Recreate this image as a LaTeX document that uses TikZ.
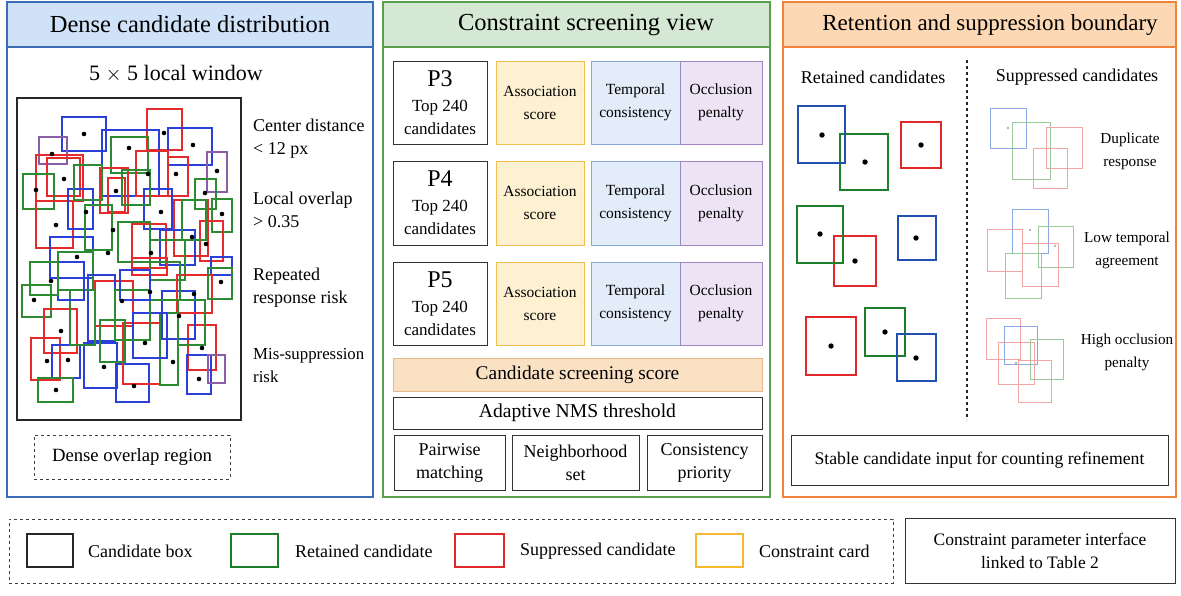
\documentclass[tikz,border=0pt]{standalone}
\usepackage{fontspec}
\setmainfont{Liberation Serif}

\definecolor{hdrblue}{HTML}{CFE2F7}
\definecolor{bdrblue}{HTML}{3B6DB6}
\definecolor{hdrgreen}{HTML}{D5E8D4}
\definecolor{bdrgreen}{HTML}{5A9E4E}
\definecolor{hdrorange}{HTML}{FDD8B4}
\definecolor{bdrorange}{HTML}{F0843A}
\definecolor{assocfill}{HTML}{FDF1D2}
\definecolor{assocdraw}{HTML}{F2C04E}
\definecolor{tempfill}{HTML}{E3ECF9}
\definecolor{tempdraw}{HTML}{8BA8DC}
\definecolor{occfill}{HTML}{ECE3F4}
\definecolor{occdraw}{HTML}{A087C2}
\definecolor{scorefill}{HTML}{FBE1C4}
\definecolor{scoredraw}{HTML}{E6B98C}
\definecolor{cr}{HTML}{E52B2B}
\definecolor{cb}{HTML}{2B3FD9}
\definecolor{cg}{HTML}{2E8B34}
\definecolor{cp}{HTML}{8B5DA8}
\definecolor{rb}{HTML}{2150B0}
\definecolor{rg}{HTML}{1E7F2A}
\definecolor{rr}{HTML}{E02828}
\definecolor{fb}{HTML}{8AA8E2}
\definecolor{fg}{HTML}{9CC89C}
\definecolor{fr}{HTML}{F2A5A5}
\definecolor{legyellow}{HTML}{F5B92E}

% box from corner (x1,y1) to (x2,y2): name, x1, y1, x2, y2, style, text
\newcommand{\mkbox}[7]{%
  \node[#6, minimum width={(#4-#2)*1pt}, minimum height={(#5-#3)*1pt}]
    (#1) at ({(#2+#4)/2},{(#3+#5)/2}) {#7};}

\begin{document}
\begin{tikzpicture}[x=1pt,y=-1pt,
  box/.style={draw, inner sep=0pt, outer sep=0pt, align=center},
  ftitle/.style={font=\fontsize{24.5}{28}\selectfont},
  fbody/.style={font=\fontsize{18}{23}\selectfont},
  fcard/.style={font=\fontsize{15.5}{23}\selectfont},
  fside/.style={font=\fontsize{15.2}{23}\selectfont},
  panelline/.style={line width=1.4pt},
  card/.style={box, fcard, line width=0.9pt},
  plain/.style={box, fbody, draw=black!80, line width=1pt},
  txt/.style={inner sep=0pt, align=center},
  scat/.style={line width=1.2pt},
  kept/.style={line width=1.5pt},
  keptthick/.style={line width=2.6pt},
  faded/.style={line width=0.8pt},
  legsq/.style={draw, line width=1.3pt, inner sep=0pt, outer sep=0pt},
]
\path[use as bounding box] (0,0) rectangle (1181,595);

% ---------------- panel 1: dense candidate distribution ----------------
\mkbox{h1}{7}{2}{373}{47}{box, ftitle, fill=hdrblue, draw=bdrblue, panelline}{Dense candidate distribution}
\mkbox{p1}{7}{2}{373}{497}{box, draw=bdrblue, panelline}{}
\node[txt, font=\fontsize{22}{26}\selectfont] (win) at (176,74) {5 $\times$ 5 local window};
\mkbox{area}{17}{98}{241}{420}{box, draw=black!85, line width=1.2pt}{}

\begin{scope}
\clip (18,99) rectangle (240,419);
\foreach \xa/\ya/\xb/\yb/\col in {
  62/117/106/151/cb, 147/109/182/150/cr, 168/128/212/165/cb, 39/137/67/164/cp,
  102/130/159/196/cb, 111/137/148/173/cg, 36/155/83/201/cr, 47/158/80/196/cr,
  207/152/227/192/cp, 23/174/54/209/cg, 136/151/168/196/cr, 168/157/188/196/cr,
  195/179/216/209/cg, 212/199/232/232/cg, 36/201/73/248/cr, 68/189/93/229/cb,
  100/168/128/213/cr, 108/178/125/212/cr, 144/189/172/229/cb, 174/200/208/256/cr,
  132/224/166/268/cr, 50/237/93/278/cb, 58/252/93/290/cg, 200/221/223/261/cr,
  85/205/112/250/cg, 118/222/150/262/cg, 160/230/195/265/cb, 150/240/185/280/cg,
  211/257/232/275/cb, 122/170/150/205/cg, 74/165/102/200/cg, 182/200/206/240/cg,
  22/285/51/317/cg, 44/309/77/353/cr, 31/338/60/380/cr, 52/345/80/378/cb,
  38/378/73/402/cg, 84/343/117/388/cb, 116/364/149/402/cb, 123/323/160/384/cr,
  188/325/216/370/cr, 187/355/211/394/cb, 208/355/225/383/cp, 162/291/195/339/cb,
  95/281/133/326/cr, 177/275/212/313/cr, 208/268/232/299/cg, 88/275/115/341/cb,
  160/313/178/385/cg, 133/313/167/358/cb, 132/258/167/275/cr, 115/290/150/340/cg,
  70/290/95/345/cg, 100/320/125/362/cg, 58/262/84/300/cb, 150/262/180/300/cg,
  178/300/205/345/cg, 30/262/58/295/cg, 120/270/150/300/cb}
  \draw[scat, \col] (\xa,\ya) rectangle (\xb,\yb);
\foreach \px/\py in {
  84/134, 193/145, 52/154, 129/148, 64/179, 217/171, 36/190, 148/174, 176/174,
  205/193, 222/214, 56/225, 86/212, 116/191, 161/212, 192/237, 206/244, 113/230,
  151/253, 108/253, 77/257, 164/133, 34/300, 61/331, 47/361, 68/360, 56/390,
  104/367, 134/386, 202/348, 199/379, 194/294, 122/301, 179/316, 221/282,
  150/292, 145/343, 173/362, 51/281}
  \fill (\px,\py) circle (2.3);
\end{scope}

\node[txt, fbody, anchor=west, align=left] (cdist) at (253,138.5) {Center distance\\{<} 12 px};
\node[txt, fbody, anchor=west, align=left] (lover) at (253,209.5) {Local overlap\\{>} 0.35};
\node[txt, fbody, anchor=west, align=left] (rrisk) at (253,287.5) {Repeated\\response risk};
\node[txt, font=\fontsize{16.8}{23}\selectfont, anchor=west, align=left] (mrisk) at (253,365.5) {Mis-suppression\\risk};
\mkbox{dense}{34}{435}{230}{479}{box, dashed, draw=black!75, line width=1pt, font=\fontsize{18.7}{23}\selectfont}{Dense overlap region}

% ---------------- panel 2: constraint screening view ----------------
\mkbox{h2}{383}{2}{770}{47}{box, fill=hdrgreen, draw=bdrgreen, panelline}{}
\node[txt, ftitle] (t2) at (586,25) {Constraint screening view};
\mkbox{p2}{383}{2}{770}{497}{box, draw=bdrgreen, panelline}{}

\foreach \lvl/\ya/\yb in {3/61/144, 4/161/245, 5/262/345}{
  \mkbox{lev\lvl}{393}{\ya}{487}{\yb}{box, draw=black!80, line width=1pt, font=\fontsize{17}{23}\selectfont}{{\fontsize{24}{24}\selectfont P\lvl}\\[2pt]Top 240\\candidates}
  \mkbox{assoc\lvl}{496}{\ya}{584}{\yb}{card, fill=assocfill, draw=assocdraw}{Association\\score}
  \mkbox{temp\lvl}{591}{\ya}{680}{\yb}{card, fill=tempfill, draw=tempdraw}{Temporal\\consistency}
  \mkbox{occ\lvl}{680}{\ya}{762}{\yb}{card, fill=occfill, draw=occdraw}{Occlusion\\penalty}
}
\mkbox{score}{393}{358}{762}{391}{box, fill=scorefill, draw=scoredraw, line width=1pt, font=\fontsize{19.4}{23}\selectfont}{Candidate screening score}
\mkbox{nms}{393}{397}{762}{429}{plain, font=\fontsize{19.6}{23}\selectfont}{Adaptive NMS threshold}
\mkbox{pair}{394}{435}{505}{490}{plain}{Pairwise\\matching}
\mkbox{neigh}{512}{435}{639}{490}{plain}{Neighborhood\\set}
\mkbox{cons}{647}{435}{762}{490}{plain}{Consistency\\priority}

% ---------------- panel 3: retention and suppression boundary ----------------
\mkbox{h3}{783}{2}{1176}{47}{box, fill=hdrorange, draw=bdrorange, panelline}{}
\node[txt, font=\fontsize{23}{28}\selectfont] (t3) at (990,25) {Retention and suppression boundary};
\mkbox{p3}{783}{2}{1176}{497}{box, draw=bdrorange, panelline}{}

\node[txt, fbody] (kepttitle) at (873,77) {Retained candidates};
\node[txt, fbody] (supptitle) at (1077,77) {Suppressed candidates};
\coordinate (divtop) at (967,60);
\coordinate (divbot) at (967,420);
\draw[dashed, line width=1.1pt, black!85] (divtop) -- (divbot);

% retained candidates
\foreach \xa/\ya/\xb/\yb/\col/\wd in {
  840/134/888/190/rg/kept, 901/122/941/168/rr/kept, 798/106/845/163/rb/keptthick,
  834/236/876/286/rr/kept, 797/206/843/263/rg/keptthick, 898/216/936/260/rb/kept,
  806/317/856/375/rr/kept, 865/308/905/356/rg/kept, 897/334/936/381/rb/kept}
  \draw[\wd, \col] (\xa,\ya) rectangle (\xb,\yb);
\foreach \px/\py in {822/135, 865/162, 921/145, 820/234, 855/261, 916/238, 831/346, 885/332, 916/358}
  \fill (\px,\py) circle (2.7);

% suppressed candidates
\foreach \xa/\ya/\xb/\yb/\col in {
  990/108/1026/148/fb, 1012/122/1050/179/fg, 1046/127/1082/168/fr, 1033/148/1067/188/fr,
  1012/209/1048/253/fb, 987/229/1022/271/fr, 1038/226/1073/267/fg, 1022/243/1058/286/fr, 1005/253/1041/298/fg,
  986/318/1020/359/fr, 1004/326/1037/364/fb, 998/342/1034/384/fr, 1030/339/1063/379/fg, 1018/360/1051/402/fr}
  \draw[faded, \col] (\xa,\ya) rectangle (\xb,\yb);
\foreach \px/\py in {1008/128, 1030/230, 1055/246, 1016/363}
  \fill[black!30] (\px,\py) circle (1.3);

\node[txt, fside] (dup) at (1130,151.5) {Duplicate\\response};
\node[txt, fside] (lowt) at (1127,250.5) {Low temporal\\agreement};
\node[txt, fside] (highocc) at (1127,352.5) {High occlusion\\penalty};
\mkbox{stable}{791}{435}{1168}{485}{box, draw=black!80, line width=1pt, font=\fontsize{17.7}{23}\selectfont}{Stable candidate input for counting refinement}

% ---------------- legend ----------------
\mkbox{legend}{9}{519}{893}{583}{box, dashed, draw=black!75, line width=1pt}{}
\mkbox{sqbox}{27}{534}{73}{567}{legsq, draw=black!85}{}
\mkbox{sqkept}{231}{534}{278}{567}{legsq, draw=rg}{}
\mkbox{sqsupp}{455}{534}{504}{567}{legsq, draw=rr}{}
\mkbox{sqcard}{696}{534}{743}{567}{legsq, draw=legyellow}{}
\node[txt, fbody, anchor=west] (lbox) at (88,551) {Candidate box};
\node[txt, fbody, anchor=west] (lkept) at (295,551) {Retained candidate};
\node[txt, fbody, anchor=west] (lsupp) at (520,551) {Suppressed candidate};
\node[txt, fbody, anchor=west] (lcard) at (759,551) {Constraint card};
\mkbox{iface}{905}{518}{1175}{583}{box, draw=black!80, line width=1pt, font=\fontsize{17.5}{23}\selectfont}{Constraint parameter interface\\linked to Table 2}
\end{tikzpicture}
\end{document}
